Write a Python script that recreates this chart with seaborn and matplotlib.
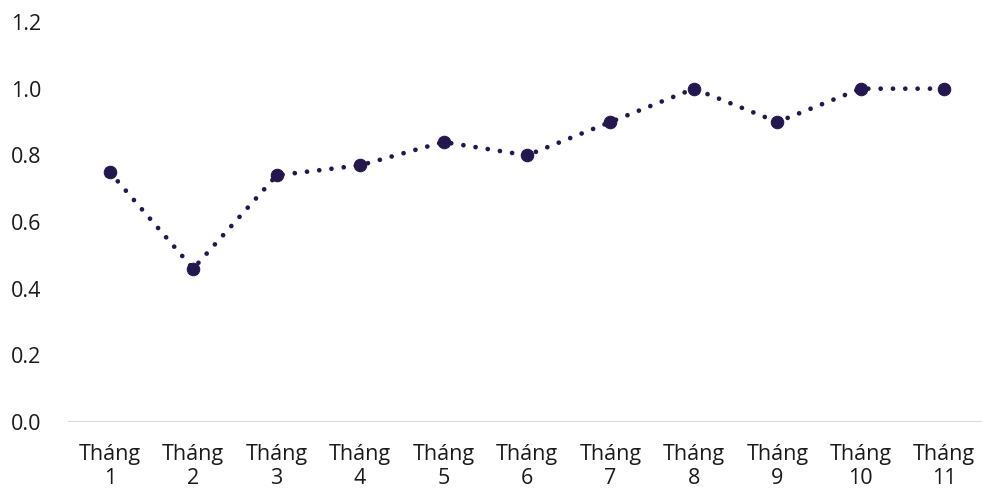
import pandas as pd
import matplotlib.pyplot as plt
import seaborn as sns

# dữ liệu
thang = ["Tháng\n1", "Tháng\n2", "Tháng\n3", "Tháng\n4", "Tháng\n5", "Tháng\n6",
         "Tháng\n7", "Tháng\n8", "Tháng\n9", "Tháng\n10", "Tháng\n11"]
gia_tri = [0.75, 0.46, 0.74, 0.77, 0.84, 0.80, 0.90, 1.00, 0.90, 1.00, 1.00]
y_ticks = [0.0, 0.2, 0.4, 0.6, 0.8, 1.0, 1.2]

sns.set_theme(style="white")
plt.rcParams['font.family'] = ['Open Sans', 'DejaVu Sans']

df = pd.DataFrame({'Thang': thang, 'GiaTri': gia_tri})

fig = plt.figure(figsize=(9.82, 4.94), dpi=100)
ax = fig.add_axes([68 / 982, 72 / 494, 918 / 982, 400 / 494])

color = '#24174d'
sns.lineplot(data=df, x='Thang', y='GiaTri', sort=False, color=color,
             linewidth=3.4, linestyle=(0, (0.01, 2.6)), dash_capstyle='round',
             marker='o', markersize=9, markeredgecolor=color, ax=ax)

ax.set_ylim(0, 1.2)
ax.set_xlim(-0.5, len(thang) - 0.5)
ax.set_yticks(y_ticks)
ax.set_yticklabels([f"{v:.1f}" for v in y_ticks])
ax.axhline(0, color='#d9d9d9', linewidth=1.5, zorder=0)

for s in ax.spines.values():
    s.set_visible(False)
ax.grid(False)
ax.set_xlabel("")
ax.set_ylabel("")
ax.tick_params(axis='both', length=0, labelsize=15.5, labelcolor='#1a1a1a')
ax.tick_params(axis='y', pad=19)
ax.tick_params(axis='x', pad=16)
for lbl in ax.get_xticklabels():
    lbl.set_linespacing(1.2)

fig.savefig('out.png', dpi=100)
plt.close()
